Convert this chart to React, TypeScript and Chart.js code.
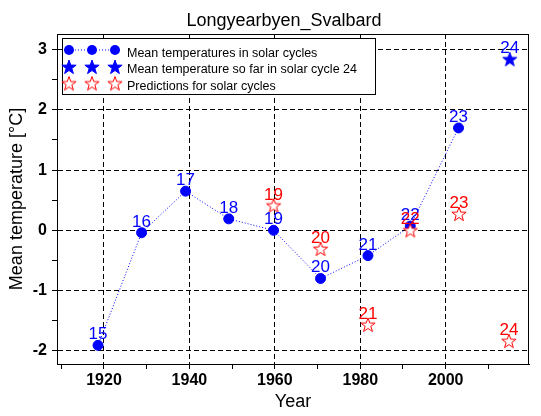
import { useEffect, useRef } from 'react';
import { Chart, registerables } from 'chart.js';

Chart.register(...registerables);

// ---- data ----
const cycleLabels = ['15', '16', '17', '18', '19', '20', '21', '22', '23'];
const cycleYears = [1918.6, 1928.8, 1939.1, 1949.2, 1959.7, 1970.7, 1981.8, 1991.7, 2003.0];
const cycleTemps = [-1.91, -0.04, 0.65, 0.19, 0.0, -0.8, -0.42, 0.07, 1.7];

const soFarLabels = ['24'];
const soFarYears = [2015.0];
const soFarTemps = [2.84];

const predLabels = ['19', '20', '21', '22', '23', '24'];
const predYears = [1959.7, 1970.7, 1981.8, 1991.7, 2003.1, 2014.8];
const predTemps = [0.41, -0.31, -1.57, 0.0, 0.27, -1.84];

const legendTexts = [
  'Mean temperatures in solar cycles',
  'Mean temperature so far in solar cycle 24',
  'Predictions for solar cycles',
];
const titleText = 'Longyearbyen_Svalbard';
const xTitle = 'Year';
const yTitle = 'Mean temperature [°C]';

const BLUE = '#0000ff';
const RED = '#ff0000';
const FONT = '"Liberation Sans", Arial, sans-serif';

function makeStar(fill: string | null, color: string, r = 7.5): HTMLCanvasElement {
  const size = 20;
  const c = document.createElement('canvas');
  c.width = size;
  c.height = size;
  const ctx = c.getContext('2d')!;
  const cx = size / 2;
  const cy = size / 2 + 0.5;
  ctx.beginPath();
  for (let i = 0; i < 10; i++) {
    const rad = i % 2 === 0 ? r : r * 0.4;
    const a = -Math.PI / 2 + (i * Math.PI) / 5;
    const x = cx + rad * Math.cos(a);
    const y = cy + rad * Math.sin(a);
    if (i === 0) ctx.moveTo(x, y);
    else ctx.lineTo(x, y);
  }
  ctx.closePath();
  if (fill) {
    ctx.fillStyle = fill;
    ctx.fill();
  }
  ctx.strokeStyle = color;
  ctx.lineWidth = 1;
  ctx.stroke();
  return c;
}

export default function App() {
  const ref = useRef<HTMLCanvasElement | null>(null);

  useEffect(() => {
    document.body.style.margin = '0';
    const canvas = ref.current;
    if (!canvas) return;

    const blueStar = makeStar(BLUE, BLUE);
    const redStar = makeStar('#ffffff', RED);

    const labelPlugin = {
      id: 'pointLabels',
      afterDatasetsDraw(chart: any) {
        const ctx = chart.ctx;
        ctx.save();
        ctx.font = `17px ${FONT}`;
        ctx.textAlign = 'center';
        ctx.textBaseline = 'alphabetic';
        chart.data.datasets.forEach((ds: any, i: number) => {
          const meta = chart.getDatasetMeta(i);
          ctx.fillStyle = ds.labelColor;
          meta.data.forEach((el: any, j: number) => {
            ctx.fillText(ds.pointLabels[j], el.x, el.y - 6);
          });
        });
        ctx.restore();
      },
    };

    const decorPlugin = {
      id: 'decor',
      afterDraw(chart: any) {
        const ctx = chart.ctx;
        const a = chart.chartArea;
        ctx.save();
        // frame
        ctx.strokeStyle = '#000';
        ctx.lineWidth = 1;
        ctx.strokeRect(Math.round(a.left) + 0.5, Math.round(a.top) + 0.5, Math.round(a.right - a.left) - 1, Math.round(a.bottom - a.top));
        // title
        ctx.fillStyle = '#000';
        ctx.font = `18px ${FONT}`;
        ctx.textAlign = 'center';
        ctx.textBaseline = 'alphabetic';
        ctx.fillText(titleText, 284, 26);
        // legend box
        ctx.fillStyle = '#fff';
        ctx.fillRect(62.5, 38.5, 313, 56);
        ctx.strokeStyle = '#000';
        ctx.strokeRect(62.5, 38.5, 313, 56);
        const xs = [69, 92, 115];
        // row 1
        ctx.save();
        ctx.strokeStyle = BLUE;
        ctx.setLineDash([1, 2]);
        ctx.beginPath();
        ctx.moveTo(xs[0], 50);
        ctx.lineTo(xs[2], 50);
        ctx.stroke();
        ctx.restore();
        ctx.fillStyle = BLUE;
        xs.forEach((x) => {
          ctx.beginPath();
          ctx.arc(x, 50, 5, 0, Math.PI * 2);
          ctx.fill();
        });
        xs.forEach((x) => ctx.drawImage(blueStar, x - 10, 67 - 10));
        xs.forEach((x) => ctx.drawImage(redStar, x - 10, 83.5 - 10));
        ctx.fillStyle = '#000';
        ctx.font = `12.5px ${FONT}`;
        ctx.textAlign = 'left';
        ctx.fillText(legendTexts[0], 127, 56.5);
        ctx.fillText(legendTexts[1], 127, 73.3);
        ctx.fillText(legendTexts[2], 127, 90);
        ctx.restore();
      },
    };

    const tickFont = { family: FONT, size: 16, weight: 'bold' as const };
    const titleFont = { family: FONT, size: 18 };

    const chart = new Chart(canvas, {
      type: 'scatter',
      data: {
        datasets: [
          {
            data: cycleYears.map((x, i) => ({ x, y: cycleTemps[i] })),
            showLine: true,
            borderColor: BLUE,
            backgroundColor: BLUE,
            borderWidth: 1,
            borderDash: [1, 2],
            pointRadius: 5,
            pointBorderWidth: 1,
            pointStyle: 'circle',
            pointLabels: cycleLabels,
            labelColor: BLUE,
            order: 2,
          } as any,
          {
            data: soFarYears.map((x, i) => ({ x, y: soFarTemps[i] })),
            showLine: false,
            pointStyle: blueStar,
            pointRadius: 8,
            pointLabels: soFarLabels,
            labelColor: BLUE,
            order: 1,
          } as any,
          {
            data: predYears.map((x, i) => ({ x, y: predTemps[i] })),
            showLine: false,
            pointStyle: redStar,
            pointRadius: 8,
            pointLabels: predLabels,
            labelColor: RED,
            order: 0,
          } as any,
        ],
      },
      options: {
        responsive: false,
        animation: false,
        layout: { padding: { top: 34, right: 12, left: 0, bottom: 0 } },
        plugins: {
          legend: { display: false },
          title: { display: false },
          tooltip: { enabled: false },
        },
        scales: {
          x: {
            type: 'linear',
            min: 1909,
            max: 2019.5,
            afterFit: (s: any) => {
              s.height = 52;
            },
            ticks: {
              stepSize: 10,
              includeBounds: false,
              autoSkip: false,
              maxRotation: 0,
              maxTicksLimit: 50,
              padding: 2,
              color: '#000',
              font: tickFont,
              callback: (v: any) => (Number(v) % 20 === 0 ? String(v) : ''),
            },
            grid: {
              color: (c: any) => (c.tick && c.tick.value % 20 === 0 ? '#000' : 'rgba(0,0,0,0)'),
              tickColor: '#000',
              tickLength: 5,
              lineWidth: 1,
            },
            border: { display: true, color: '#000', width: 1, dash: [5, 3] },
            title: { display: true, text: xTitle, color: '#000', font: titleFont, padding: { top: 0, bottom: 3 } },
          },
          y: {
            type: 'linear',
            min: -2.22,
            max: 3.26,
            afterFit: (s: any) => {
              s.width = 57;
            },
            ticks: {
              stepSize: 0.5,
              includeBounds: false,
              autoSkip: false,
              maxTicksLimit: 50,
              padding: 5,
              color: '#000',
              font: tickFont,
              callback: (v: any) => (Number.isInteger(Number(v)) ? String(v) : ''),
            },
            grid: {
              color: (c: any) => (c.tick && Number.isInteger(c.tick.value) ? '#000' : 'rgba(0,0,0,0)'),
              tickColor: '#000',
              tickLength: 5,
              lineWidth: 1,
            },
            border: { display: true, color: '#000', width: 1, dash: [5, 3] },
            title: { display: true, text: yTitle, color: '#000', font: titleFont, padding: { top: 6, bottom: 0 } },
          },
        },
      } as any,
      plugins: [labelPlugin, decorPlugin],
    });

    return () => chart.destroy();
  }, []);

  return (
    <div style={{ width: 541, height: 416, background: '#fff' }}>
      <canvas ref={ref} width={541} height={416} style={{ display: 'block' }} />
    </div>
  );
}
